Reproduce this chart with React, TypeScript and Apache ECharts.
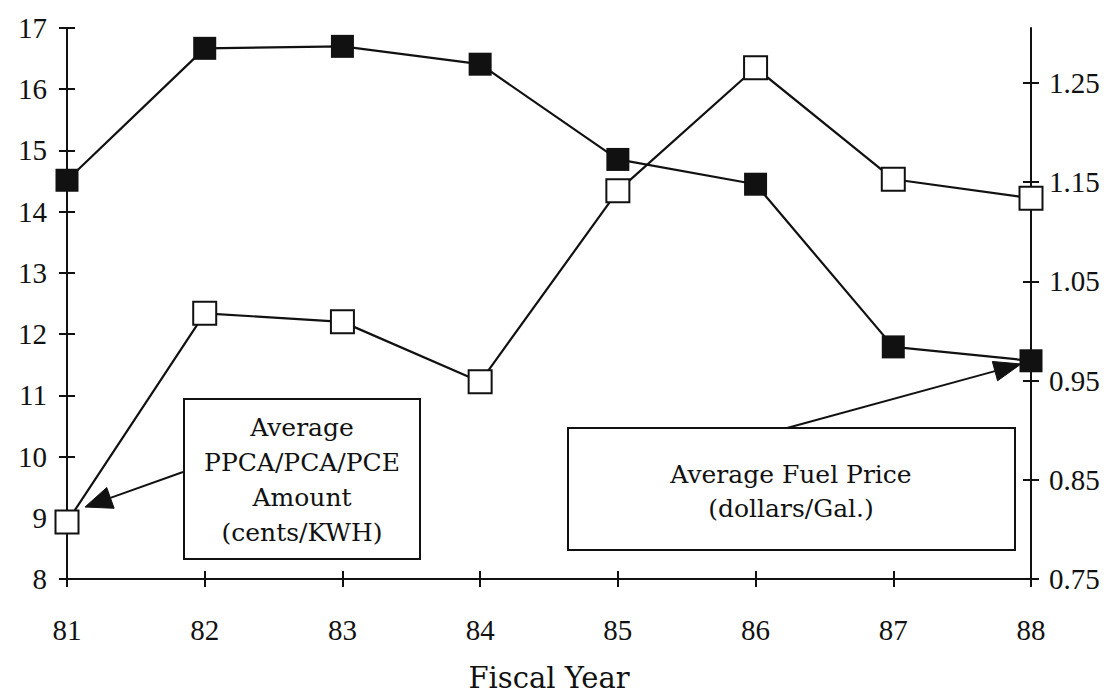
import React, { useEffect, useRef } from 'react';
import * as echarts from 'echarts';

// ---- data ----
const categories = ['81', '82', '83', '84', '85', '86', '87', '88'];
// Average PPCA/PCA/PCE amount (cents/KWH) – open squares, left axis
const ppcaAmount = [8.93, 12.34, 12.2, 11.22, 14.34, 16.35, 14.53, 14.22];
// Average fuel price (dollars/Gal.) – filled squares, right axis
const fuelPrice = [1.152, 1.285, 1.287, 1.269, 1.173, 1.148, 0.984, 0.97];
// tick labels
const leftMin = 8;
const leftMax = 17;
const leftStep = 1;
const rightTicks = [0.75, 0.85, 0.95, 1.05, 1.15, 1.25];
const rightMin = 0.75;
const rightMax = 1.3055;

const INK = '#111';
const TICK_FONT = 'Liberation Serif';
const NOTE_FONT = 'DejaVu Serif';

function arrow(x1: number, y1: number, x2: number, y2: number, len: number, half: number) {
  const dx = x2 - x1;
  const dy = y2 - y1;
  const L = Math.sqrt(dx * dx + dy * dy);
  const ux = dx / L;
  const uy = dy / L;
  const bx = x2 - ux * len;
  const by = y2 - uy * len;
  const nx = -uy;
  const ny = ux;
  return [
    {
      type: 'line',
      shape: { x1, y1, x2: bx, y2: by },
      style: { stroke: INK, lineWidth: 2 },
      z: 10,
    },
    {
      type: 'polygon',
      shape: {
        points: [
          [x2, y2],
          [bx + nx * half, by + ny * half],
          [bx - nx * half, by - ny * half],
        ],
      },
      style: { fill: INK, stroke: INK, lineWidth: 1 },
      z: 10,
    },
  ];
}

export default function App() {
  const ref = useRef<HTMLDivElement>(null);

  useEffect(() => {
    if (!ref.current) return;
    const chart = echarts.init(ref.current, undefined, { renderer: 'svg' });

    const axisLineStyle = { color: INK, width: 2 };
    const tickLabel = { fontFamily: TICK_FONT, fontSize: 29, color: INK };

    const option: any = {
      animation: false,
      backgroundColor: '#ffffff',
      grid: {
        left: 67,
        right: 82,
        top: 28,
        bottom: 114,
        containLabel: false,
        outerBoundsMode: 'none',
      },
      xAxis: [
        {
          type: 'category',
          data: categories,
          boundaryGap: false,
          position: 'bottom',
          axisLine: { show: true, onZero: false, lineStyle: axisLineStyle },
          axisTick: { show: true, length: 8, lineStyle: axisLineStyle },
          axisLabel: { ...tickLabel, margin: 36 },
          splitLine: { show: false },
          name: 'Fiscal Year',
          nameLocation: 'middle',
          nameGap: 84,
          nameTextStyle: { fontFamily: NOTE_FONT, fontSize: 29, color: INK },
        },
        {
          type: 'category',
          data: categories,
          boundaryGap: false,
          position: 'bottom',
          axisLine: { show: false, onZero: false },
          axisTick: { show: true, inside: true, length: 8, lineStyle: axisLineStyle },
          axisLabel: { show: false },
          splitLine: { show: false },
        },
      ],
      yAxis: [
        {
          type: 'value',
          position: 'left',
          min: leftMin,
          max: leftMax,
          interval: leftStep,
          axisLine: { show: true, onZero: false, lineStyle: axisLineStyle },
          axisTick: { show: true, length: 8, lineStyle: axisLineStyle },
          axisLabel: { ...tickLabel, margin: 20 },
          splitLine: { show: false },
        },
        {
          type: 'value',
          position: 'left',
          min: leftMin,
          max: leftMax,
          interval: leftStep,
          axisLine: { show: false, onZero: false },
          axisTick: { show: true, inside: true, length: 8, lineStyle: axisLineStyle },
          axisLabel: { show: false },
          splitLine: { show: false },
        },
        {
          type: 'value',
          position: 'right',
          min: rightMin,
          max: rightMax,
          axisLine: { show: true, onZero: false, lineStyle: axisLineStyle },
          axisTick: { show: true, length: 8, lineStyle: axisLineStyle, customValues: rightTicks },
          axisLabel: {
            ...tickLabel,
            margin: 18,
            customValues: rightTicks,
            formatter: (v: number) => v.toFixed(2),
          },
          splitLine: { show: false },
        },
        {
          type: 'value',
          position: 'right',
          min: rightMin,
          max: rightMax,
          axisLine: { show: false, onZero: false },
          axisTick: { show: true, inside: true, length: 8, lineStyle: axisLineStyle, customValues: rightTicks },
          axisLabel: { show: false, customValues: rightTicks },
          splitLine: { show: false },
        },
      ],
      series: [
        {
          name: 'Average Fuel Price',
          type: 'line',
          xAxisIndex: 0,
          yAxisIndex: 2,
          data: fuelPrice,
          symbol: 'rect',
          symbolSize: 23,
          showAllSymbol: true,
          lineStyle: { color: INK, width: 2.2 },
          itemStyle: { color: INK, borderColor: INK, borderWidth: 0 },
          emphasis: { disabled: true },
          z: 3,
        },
        {
          name: 'Average PPCA/PCA/PCE Amount',
          type: 'line',
          xAxisIndex: 0,
          yAxisIndex: 0,
          data: ppcaAmount,
          symbol: 'rect',
          symbolSize: 23,
          showAllSymbol: true,
          lineStyle: { color: INK, width: 2.2 },
          itemStyle: { color: '#ffffff', borderColor: INK, borderWidth: 2 },
          emphasis: { disabled: true },
          z: 4,
        },
      ],
      graphic: [
        {
          type: 'rect',
          shape: { x: 184, y: 399, width: 236, height: 160 },
          style: { fill: '#ffffff', stroke: INK, lineWidth: 2 },
          z: 10,
        },
        {
          type: 'text',
          x: 302,
          y: 480,
          style: {
            text: 'Average\nPPCA/PCA/PCE\nAmount\n(cents/KWH)',
            fill: INK,
            fontFamily: NOTE_FONT,
            fontSize: 25,
            lineHeight: 35,
            align: 'center',
            verticalAlign: 'middle',
            textAlign: 'center',
            textVerticalAlign: 'middle',
          },
          z: 11,
        },
        {
          type: 'rect',
          shape: { x: 568, y: 428, width: 447, height: 122 },
          style: { fill: '#ffffff', stroke: INK, lineWidth: 2 },
          z: 10,
        },
        {
          type: 'text',
          x: 791,
          y: 491,
          style: {
            text: 'Average Fuel Price\n(dollars/Gal.)',
            fill: INK,
            fontFamily: NOTE_FONT,
            fontSize: 25,
            lineHeight: 34,
            align: 'center',
            verticalAlign: 'middle',
            textAlign: 'center',
            textVerticalAlign: 'middle',
          },
          z: 11,
        },
        ...arrow(183, 472, 85, 507, 27, 11),
        ...arrow(787, 428, 1021, 364, 27, 10),
      ],
    };

    chart.setOption(option);
    return () => {
      chart.dispose();
    };
  }, []);

  return (
    <div
      ref={ref}
      style={{ position: 'absolute', left: 0, top: 0, width: 1113, height: 693, background: '#fff' }}
    />
  );
}
